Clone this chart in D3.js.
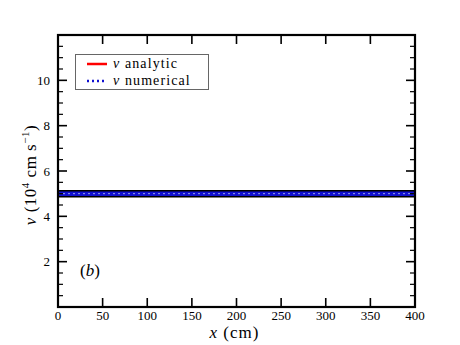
<!DOCTYPE html>
<html>
<head>
<meta charset="utf-8">
<script src="https://cdn.jsdelivr.net/npm/d3@7"></script>
<style>
  body { margin: 0; background: #fff; }
  text { font-family: "Liberation Serif", "DejaVu Serif", serif; fill: #000; }
</style>
</head>
<body>
<script>
// analytic and numerical v (10^4 cm/s) along x (cm)
var analyticX = [0, 400];
var analyticV = [5.0, 5.0];
var numericalX = [0, 25, 50, 75, 100, 125, 150, 175, 200, 225, 250, 275, 300, 325, 350, 375, 400];
var numericalV = [5.0, 5.0, 5.0, 5.0, 5.0, 5.0, 5.0, 5.0, 5.0, 5.0, 5.0, 5.0, 5.0, 5.0, 5.0, 5.0, 5.0];
var xTicks = [0, 50, 100, 150, 200, 250, 300, 350, 400];
var yTicks = [2, 4, 6, 8, 10];
var legendLabels = ["analytic", "numerical"];

var width = 460, height = 345;
var margin = { left: 58, right: 45, top: 35, bottom: 38 };

var svg = d3.select("body").append("svg")
  .attr("width", width)
  .attr("height", height);

var x = d3.scaleLinear().domain([0, 400]).range([margin.left, width - margin.right]);
var y = d3.scaleLinear().domain([0, 12]).range([height - margin.bottom, margin.top]);

var line = d3.line()
  .x(function(d) { return x(d[0]) })
  .y(function(d) { return y(d[1]) });

var analytic = analyticX.map(function(d, i) { return [d, analyticV[i]] });
var numerical = numericalX.map(function(d, i) { return [d, numericalV[i]] });

// curves
svg.append("path").datum(analytic)
  .attr("d", line).attr("fill", "none")
  .attr("stroke", "red").attr("stroke-width", 3);
svg.append("path").datum(numerical)
  .attr("d", line).attr("fill", "none")
  .attr("stroke", "#000").attr("stroke-width", 7.5);
svg.append("path").datum(numerical)
  .attr("d", line).attr("fill", "none")
  .attr("stroke", "#1010d0").attr("stroke-width", 4.5);
svg.append("path").datum(numerical)
  .attr("d", line).attr("fill", "none")
  .attr("stroke", "#9aa0e8").attr("stroke-width", 1)
  .attr("stroke-dasharray", "2 3");

// axes (bottom/top/left/right with minor ticks on y)
var minorY = d3.range(0.5, 12, 0.5).filter(function(v) { return v % 2 != 0 });

var g = svg.append("g").attr("stroke", "#000").attr("stroke-width", 1.6);

g.selectAll(".xt").data(xTicks.slice(1, -1)).enter().append("line")
  .attr("x1", function(d) { return x(d) }).attr("x2", function(d) { return x(d) })
  .attr("y1", y(0)).attr("y2", y(0) - 9);
g.selectAll(".xtt").data(xTicks.slice(1, -1)).enter().append("line")
  .attr("x1", function(d) { return x(d) }).attr("x2", function(d) { return x(d) })
  .attr("y1", y(12)).attr("y2", y(12) + 9);

[x(0), x(400)].forEach(function(px, side) {
  var dir = side == 0 ? 1 : -1;
  g.selectAll(".ym" + side).data(yTicks).enter().append("line")
    .attr("x1", px).attr("x2", px + dir * 9)
    .attr("y1", function(d) { return y(d) }).attr("y2", function(d) { return y(d) });
  g.selectAll(".yn" + side).data(minorY).enter().append("line")
    .attr("x1", px).attr("x2", px + dir * 5)
    .attr("y1", function(d) { return y(d) }).attr("y2", function(d) { return y(d) })
    .attr("stroke-width", 1.2);
});

svg.append("rect")
  .attr("x", x(0)).attr("y", y(12))
  .attr("width", x(400) - x(0)).attr("height", y(0) - y(12))
  .attr("fill", "none").attr("stroke", "#000").attr("stroke-width", 2.2);

svg.selectAll(".xl").data(xTicks).enter().append("text")
  .attr("x", function(d) { return x(d) })
  .attr("y", y(0) + 13)
  .attr("text-anchor", "middle")
  .attr("font-size", 13)
  .text(function(d) { return d });

svg.selectAll(".yl").data(yTicks).enter().append("text")
  .attr("x", x(0) - 8)
  .attr("y", function(d) { return y(d) + 4.5 })
  .attr("text-anchor", "end")
  .attr("font-size", 13)
  .text(function(d) { return d });

// axis titles
var xt = svg.append("text")
  .attr("x", (x(0) + x(400)) / 2 - 2)
  .attr("y", 338)
  .attr("text-anchor", "middle")
  .attr("font-size", 17)
  .attr("letter-spacing", 1);
xt.append("tspan").attr("font-style", "italic").text("x");
xt.append("tspan").text(" (cm)");

var yt = svg.append("text")
  .attr("transform", "translate(36," + 175 + ") rotate(-90)")
  .attr("text-anchor", "middle")
  .attr("font-size", 17)
  .attr("letter-spacing", 0.5);
yt.append("tspan").attr("font-style", "italic").text("v");
yt.append("tspan").text(" (10");
yt.append("tspan").attr("font-size", 11).attr("dy", -7).text("4");
yt.append("tspan").attr("dy", 7).text(" cm s");
yt.append("tspan").attr("font-size", 11).attr("dy", -7).text("−1");
yt.append("tspan").attr("dy", 7).text(")");

svg.append("text")
  .attr("x", 80).attr("y", 276)
  .attr("font-size", 17)
  .text("(")
  .append("tspan").attr("font-style", "italic").text("b")
  .select(function() { return this.parentNode })
  .append("tspan").text(")");

// legend
var lg = svg.append("g");
lg.append("rect")
  .attr("x", 75.5).attr("y", 54.5).attr("width", 133).attr("height", 35)
  .attr("fill", "#fff").attr("stroke", "#666").attr("stroke-width", 1);
lg.append("line")
  .attr("x1", 87).attr("x2", 107).attr("y1", 64).attr("y2", 64)
  .attr("stroke", "red").attr("stroke-width", 2.5);
lg.append("line")
  .attr("x1", 87).attr("x2", 107).attr("y1", 81).attr("y2", 81)
  .attr("stroke", "#1010d0").attr("stroke-width", 2.5)
  .attr("stroke-dasharray", "2 3");
legendLabels.forEach(function(lab, i) {
  var t = lg.append("text")
    .attr("x", 113).attr("y", 68 + i * 17)
    .attr("font-size", 14)
    .attr("letter-spacing", 1.1);
  t.append("tspan").attr("font-style", "italic").text("v");
  t.append("tspan").text("  " + lab);
});
</script>
</body>
</html>
